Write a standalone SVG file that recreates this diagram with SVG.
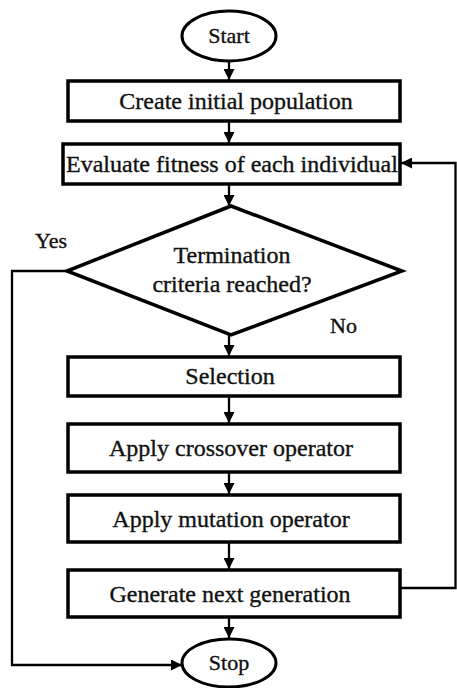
<svg xmlns="http://www.w3.org/2000/svg" width="457" height="688" viewBox="0 0 457 688">
  <defs>
    <marker id="arrow" markerUnits="userSpaceOnUse" markerWidth="11" markerHeight="11" refX="11" refY="5.5" orient="auto">
      <path d="M0,0 L11,5.5 L0,11 z" fill="#000"/>
    </marker>
    <style>
      .box { fill: #fff; stroke: #000; stroke-width: 3.5; }
      .term { fill: #fff; stroke: #000; stroke-width: 3; }
      .dec { fill: #fff; stroke: #000; stroke-width: 3.5; stroke-linejoin: miter; }
      .conn { fill: none; stroke: #000; stroke-width: 2.3; }
      .arr { marker-end: url(#arrow); }
      text { font-family: "Liberation Serif", "Times New Roman", serif; fill: #111; stroke: #111; stroke-width: 0.35; text-anchor: middle; }
      .t { font-size: 24px; }
      .s { font-size: 22px; }
      .lbl { font-size: 22px; text-anchor: start; }
    </style>
  </defs>
  <rect width="457" height="688" fill="#fff"/>

  <g id="connectors">
    <line class="conn arr" x1="229" y1="61" x2="229" y2="80"/>
    <line class="conn arr" x1="229" y1="122" x2="229" y2="143"/>
    <line class="conn arr" x1="229" y1="185" x2="229" y2="206"/>
    <line class="conn arr" x1="229" y1="335" x2="229" y2="356"/>
    <line class="conn arr" x1="229" y1="397" x2="229" y2="423"/>
    <line class="conn arr" x1="229" y1="473" x2="229" y2="494"/>
    <line class="conn arr" x1="229" y1="543" x2="229" y2="569"/>
    <line class="conn arr" x1="229" y1="618" x2="229" y2="638"/>
    <polyline class="conn arr" points="67,271 12,271 12,665 182,665"/>
    <polyline class="conn arr" points="401,588 455.5,588 455.5,163 401,163"/>
  </g>

  <g id="start">
    <ellipse class="term" cx="229" cy="36" rx="47" ry="25"/>
    <text class="s" x="229" y="43">Start</text>
  </g>
  <g id="create">
    <rect class="box" x="68" y="81" width="332" height="40"/>
    <text class="t" x="236" y="109">Create initial population</text>
  </g>
  <g id="evaluate">
    <rect class="box" x="63" y="144" width="337" height="40"/>
    <text class="t" x="232" y="172">Evaluate fitness of each individual</text>
  </g>
  <g id="termination">
    <polygon class="dec" points="231,206 402,271 231,335 67,271"/>
    <text class="t" x="232" y="263">Termination</text>
    <text class="t" x="232" y="292">criteria reached?</text>
  </g>
  <g id="labels">
    <text class="lbl" x="35" y="248">Yes</text>
    <text class="lbl" x="330" y="333">No</text>
  </g>
  <g id="selection">
    <rect class="box" x="68" y="357" width="332" height="39"/>
    <text class="t" x="230" y="384">Selection</text>
  </g>
  <g id="crossover">
    <rect class="box" x="68" y="424" width="332" height="48"/>
    <text class="t" x="231" y="456">Apply crossover operator</text>
  </g>
  <g id="mutation">
    <rect class="box" x="68" y="495" width="332" height="47"/>
    <text class="t" x="231" y="527">Apply mutation operator</text>
  </g>
  <g id="generate">
    <rect class="box" x="68" y="570" width="332" height="47"/>
    <text class="t" x="230" y="602">Generate next generation</text>
  </g>
  <g id="stop">
    <ellipse class="term" cx="229" cy="663" rx="47" ry="24"/>
    <text class="s" x="229" y="670">Stop</text>
  </g>
</svg>
